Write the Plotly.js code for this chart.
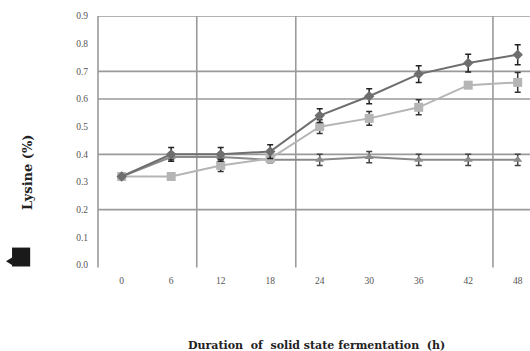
<!DOCTYPE html>
<html>
<head>
<meta charset="utf-8">
<script src="https://cdn.plot.ly/plotly-3.0.1.min.js"></script>
<style>html,body{margin:0;padding:0;background:#fff;}#chart{width:530px;height:351px;}</style>
</head>
<body>
<div id="chart"></div>
<script>
// Data
const hours = [0, 6, 12, 18, 24, 30, 36, 42, 48];
const xTickText = ['0', '6', '12', '18', '24', '30', '36', '42', '48'];
const yTickVals = [0, 0.1, 0.2, 0.3, 0.4, 0.5, 0.6, 0.7, 0.8, 0.9];
const yTickText = ['0.0', '0.1', '0.2', '0.3', '0.4', '0.5', '0.6', '0.7', '0.8', '0.9'];
const seriesDiamond = [0.32, 0.40, 0.40, 0.41, 0.54, 0.61, 0.69, 0.73, 0.76];
const errDiamond    = [0, 0.025, 0.025, 0.025, 0.025, 0.027, 0.03, 0.032, 0.036];
const seriesSquare  = [0.32, 0.32, 0.36, 0.385, 0.50, 0.53, 0.57, 0.65, 0.66];
const errSquare     = [0, 0, 0.022, 0.01, 0.025, 0.025, 0.027, 0.01, 0.036];
const seriesTri     = [0.32, 0.39, 0.39, 0.38, 0.38, 0.39, 0.38, 0.38, 0.38];
const errTri        = [0, 0.01, 0.01, 0.01, 0.02, 0.02, 0.02, 0.02, 0.02];
// grid positions seen on the scanned figure
const gridX = [9.1, 21.1, 45.0];
const gridY = [0.2, 0.4, 0.6, 0.7, 0.9];

const gridColor = '#9a9a9a';
const shapes = [];
gridX.forEach(v => shapes.push({type:'line', layer:'below', xref:'x', yref:'paper', x0:v, x1:v, y0:-0.01, y1:1, line:{color:gridColor, width:1.6}}));
gridY.forEach(v => shapes.push({type:'line', layer:'below', xref:'paper', yref:'y', x0:0, x1:1, y0:v, y1:v, line:{color:gridColor, width:1.6}}));
shapes.push({type:'line', layer:'below', xref:'paper', yref:'paper', x0:0, x1:0, y0:-0.01, y1:1, line:{color:gridColor, width:1.6}});
shapes.push({type:'rect', xref:'paper', yref:'paper', x0:-0.199, x1:-0.157, y0:-0.006, y1:0.07, fillcolor:'#1a1a1a', line:{width:0}});
shapes.push({type:'path', xref:'paper', yref:'paper', path:'M -0.199 0.0 L -0.213 0.015 L -0.199 0.03 Z', fillcolor:'#1a1a1a', line:{width:0}});

function tr(y, err, color, sym, size, ecolor) {
  return {
    x: hours, y: y, type: 'scatter', mode: 'lines+markers',
    line: {color: color, width: 2},
    marker: {symbol: sym, size: size, color: color},
    error_y: {type: 'data', array: err, visible: true, color: ecolor, thickness: 1.5, width: 3},
    showlegend: false, hoverinfo: 'x+y'
  };
}

const data = [
  tr(seriesTri, errTri, '#8a8a8a', 'triangle-up', 8, '#444'),
  tr(seriesSquare, errSquare, '#b5b5b5', 'square', 9, '#333'),
  tr(seriesDiamond, errDiamond, '#6e6e6e', 'diamond', 8, '#222')
];

const tickFont = {family: 'Liberation Serif, DejaVu Serif, serif', size: 9.5, color: '#555'};
const titleFont = {family: 'DejaVu Serif, Liberation Serif, serif', size: 11, color: '#222', weight: 'bold'};
const yTitleFont = {family: 'DejaVu Serif, Liberation Serif, serif', size: 13, color: '#222', weight: 'bold'};

const layout = {
  width: 530, height: 351,
  margin: {l: 98, r: 0, t: 16, b: 85.5},
  paper_bgcolor: '#fff', plot_bgcolor: '#fff',
  xaxis: {range: [-2.87, 49.49], tickmode: 'array', tickvals: hours, ticktext: xTickText,
          showgrid: false, zeroline: false, showline: false, ticks: '', tickfont: tickFont,
          ticklabelstandoff: 8, fixedrange: true},
  yaxis: {range: [0, 0.9], tickmode: 'array', tickvals: yTickVals, ticktext: yTickText,
          showgrid: false, zeroline: false, showline: false, ticks: '', tickfont: tickFont,
          ticklabelstandoff: 9, fixedrange: true},
  shapes: shapes,
  annotations: [
    {text: 'Duration  of  solid state fermentation  (h)', xref: 'paper', yref: 'paper',
     x: 0.505, y: -0.322, xanchor: 'center', yanchor: 'middle', showarrow: false, font: titleFont},
    {text: 'Lysine (%)', xref: 'paper', yref: 'paper', textangle: -90,
     x: -0.162, y: 0.37, xanchor: 'center', yanchor: 'middle', showarrow: false, font: yTitleFont}
  ]
};

Plotly.newPlot('chart', data, layout, {displayModeBar: false, staticPlot: true});
</script>
</body>
</html>
